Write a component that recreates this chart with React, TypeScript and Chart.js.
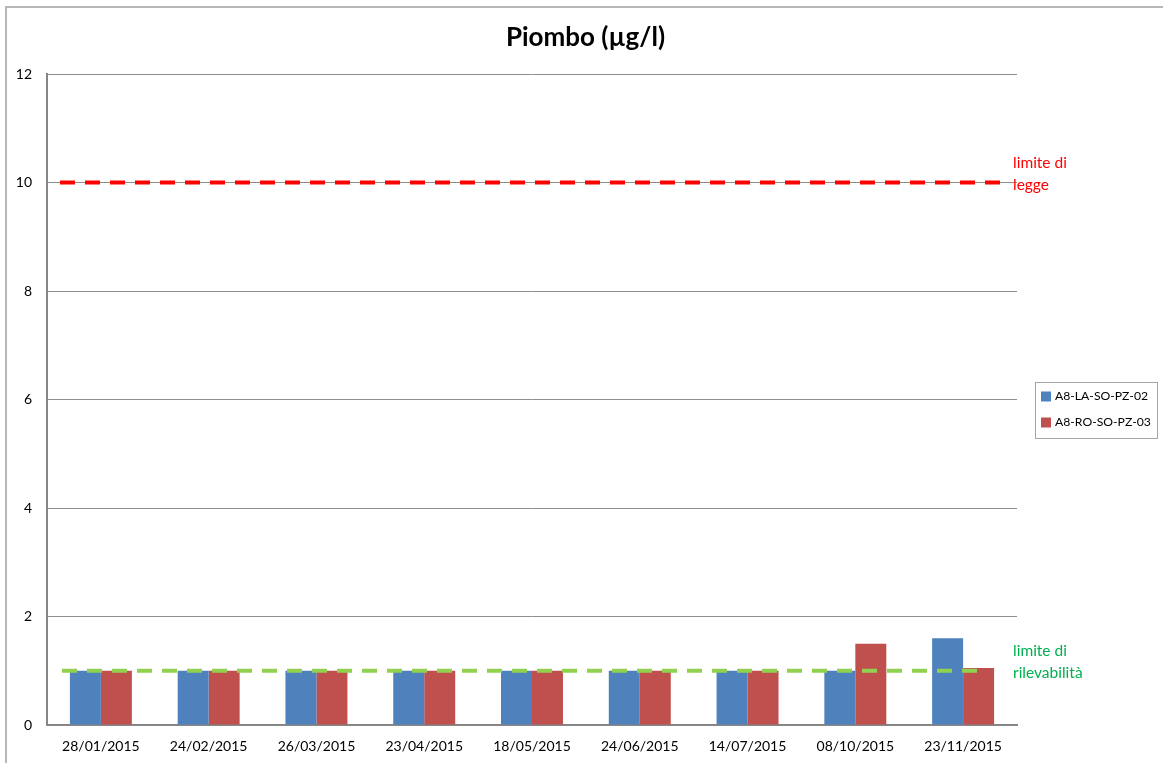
import React, { useEffect, useRef } from "react";
import { Chart, registerables } from "chart.js";

Chart.register(...registerables);

// Sampling dates
const categories = [
  "28/01/2015",
  "24/02/2015",
  "26/03/2015",
  "23/04/2015",
  "18/05/2015",
  "24/06/2015",
  "14/07/2015",
  "08/10/2015",
  "23/11/2015",
];

// Lead concentration (µg/l) per well
const seriesNames = ["A8-LA-SO-PZ-02", "A8-RO-SO-PZ-03"];
const seriesLA = [1, 1, 1, 1, 1, 1, 1, 1, 1.6];
const seriesRO = [1, 1, 1, 1, 1, 1, 1, 1.5, 1.05];
const seriesColors = ["#4F81BD", "#C0504D"];

// Reference limits
const limitValues = [10, 1];
const limitLabels = [
  ["limite di", "legge"],
  ["limite di", "rilevabilità"],
];
const limitLineColors = ["#FF0000", "#92D050"];
const limitTextColors = ["#FF0000", "#00B050"];

// Y axis
const yMin = 0;
const yMax = 12;
const yStep = 2;

const titleText = "Piombo (µg/l)";
const FONT = "Lato, 'Open Sans', sans-serif";

const framePlugin = {
  id: "frame",
  beforeDraw(chart: any) {
    const { ctx } = chart;
    ctx.save();
    ctx.strokeStyle = "#a0a0a0";
    ctx.lineWidth = 1.5;
    ctx.strokeRect(6, 7, chart.width + 20, chart.height + 20);
    ctx.restore();
  },
};

const titlePlugin = {
  id: "customTitle",
  afterDraw(chart: any) {
    const { ctx } = chart;
    ctx.save();
    ctx.font = `bold 26px ${FONT}`;
    ctx.fillStyle = "#000";
    ctx.textAlign = "center";
    ctx.textBaseline = "alphabetic";
    ctx.fillText(titleText, chart.width / 2 + 4, 46);
    ctx.restore();
  },
};

const limitsPlugin = {
  id: "limits",
  afterDatasetsDraw(chart: any) {
    const { ctx, chartArea } = chart;
    const y = chart.scales.y;
    const ends = [
      [chartArea.left + 13, chartArea.right - 12],
      [chartArea.left + 15, chartArea.right - 39],
    ];
    limitValues.forEach((v, i) => {
      const py = y.getPixelForValue(v);
      ctx.save();
      ctx.strokeStyle = limitLineColors[i];
      ctx.lineWidth = 4;
      ctx.setLineDash([15, 10]);
      ctx.beginPath();
      ctx.moveTo(ends[i][0], py);
      ctx.lineTo(ends[i][1], py);
      ctx.stroke();
      ctx.restore();

      ctx.save();
      ctx.font = `15.5px ${FONT}`;
      ctx.fillStyle = limitTextColors[i];
      ctx.textAlign = "left";
      ctx.textBaseline = "middle";
      ctx.fillText(limitLabels[i][0], chartArea.right - 4, py - 20);
      ctx.fillText(limitLabels[i][1], chartArea.right - 4, py + 2);
      ctx.restore();
    });
  },
};

const legendPlugin = {
  id: "boxLegend",
  afterDraw(chart: any) {
    const { ctx, chartArea } = chart;
    const x = chartArea.right + 18;
    const w = 122;
    const h = 56;
    const cy = (chartArea.top + chartArea.bottom) / 2 + 10;
    const top = cy - h / 2;
    ctx.save();
    ctx.strokeStyle = "#a6a6a6";
    ctx.lineWidth = 1;
    ctx.strokeRect(Math.round(x) + 0.5, Math.round(top) + 0.5, w, h);
    ctx.font = `12.2px ${FONT}`;
    ctx.textBaseline = "middle";
    ctx.textAlign = "left";
    chart.data.datasets.forEach((ds: any, i: number) => {
      const iy = top + 15 + i * 26;
      ctx.fillStyle = ds.backgroundColor;
      ctx.fillRect(x + 6, iy - 5, 10, 10);
      ctx.fillStyle = "#000";
      ctx.fillText(ds.label, x + 20, iy);
    });
    ctx.restore();
  },
};

export default function App() {
  const canvasRef = useRef<HTMLCanvasElement | null>(null);

  useEffect(() => {
    if (!canvasRef.current) return;
    const chart = new Chart(canvasRef.current, {
      type: "bar",
      data: {
        labels: categories,
        datasets: [
          {
            label: seriesNames[0],
            data: seriesLA,
            backgroundColor: seriesColors[0],
            borderWidth: 0,
            categoryPercentage: 0.575,
            barPercentage: 1,
          },
          {
            label: seriesNames[1],
            data: seriesRO,
            backgroundColor: seriesColors[1],
            borderWidth: 0,
            categoryPercentage: 0.575,
            barPercentage: 1,
          },
        ],
      },
      options: {
        animation: false,
        responsive: true,
        maintainAspectRatio: false,
        layout: { padding: { left: 0, top: 74, right: 146, bottom: 0 } },
        plugins: {
          legend: { display: false },
          title: { display: false },
          tooltip: { enabled: false },
        },
        scales: {
          x: {
            grid: { display: false, drawTicks: false },
            border: { color: "#868686", width: 2 },
            ticks: {
              color: "#000",
              font: { family: FONT, size: 14 },
              padding: 13,
              maxRotation: 0,
            },
            afterFit(scale: any) {
              scale.height = 38;
            },
          },
          y: {
            min: yMin,
            max: yMax,
            grid: { color: "#8e8e8e", lineWidth: 1, drawTicks: false },
            border: { color: "#868686", width: 2 },
            ticks: {
              stepSize: yStep,
              color: "#000",
              font: { family: FONT, size: 14 },
              padding: 15,
            },
            afterFit(scale: any) {
              scale.width = 47;
            },
          },
        },
      },
      plugins: [framePlugin, limitsPlugin, legendPlugin, titlePlugin],
    });
    return () => chart.destroy();
  }, []);

  return (
    <div
      style={{
        position: "absolute",
        left: 0,
        top: 0,
        width: 1163,
        height: 763,
        background: "#fff",
      }}
    >
      <canvas ref={canvasRef} />
    </div>
  );
}
